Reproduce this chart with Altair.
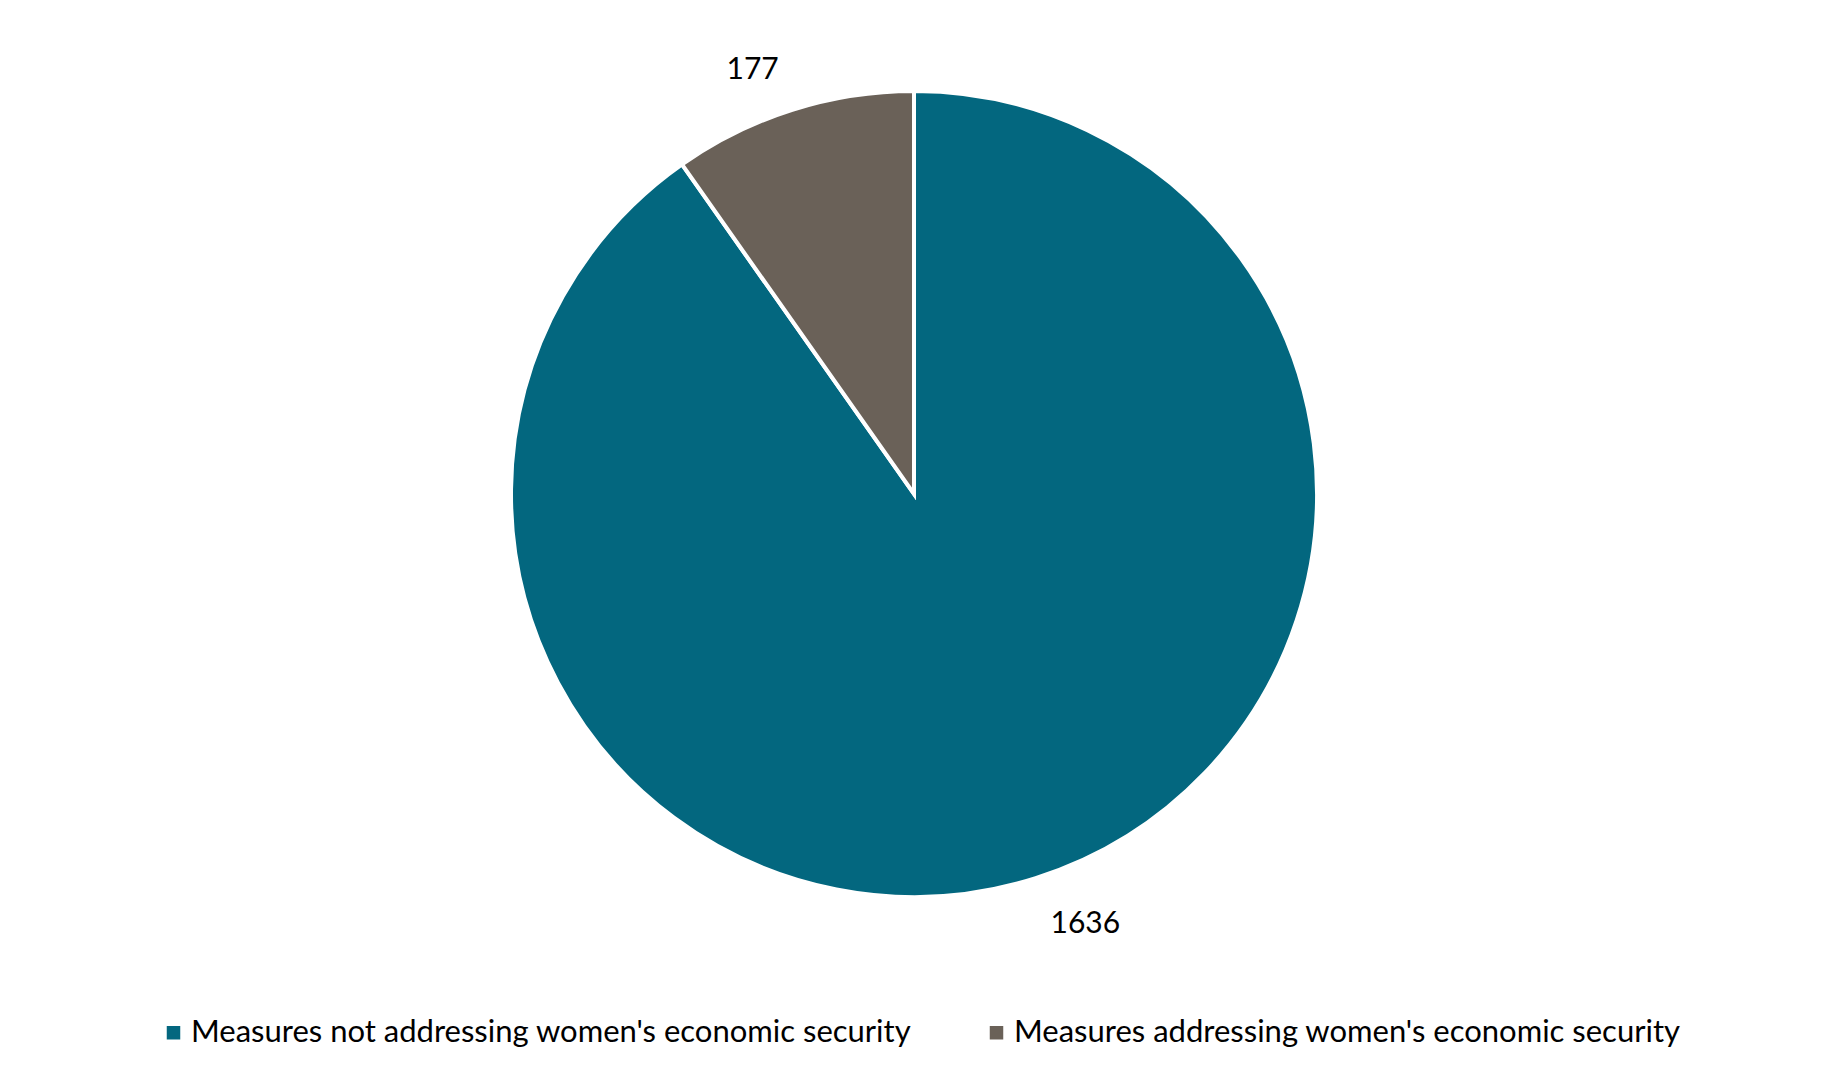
import altair as alt
import pandas as pd
import math

categories = ["Measures not addressing women's economic security",
              "Measures addressing women's economic security"]
values = [1636, 177]
colors = ["#03677F", "#6A6158"]

df = pd.DataFrame({"category": categories, "value": values, "order": [0, 1]})

CX, CY = 906, 486

pie = alt.Chart(df).mark_arc(outerRadius=403, stroke="white", strokeWidth=4).encode(
    theta=alt.Theta("value:Q", stack=True),
    order=alt.Order("order:Q"),
    x=alt.value(CX),
    y=alt.value(CY),
    color=alt.Color(
        "category:N",
        scale=alt.Scale(domain=categories, range=colors),
        sort=categories,
        legend=alt.Legend(
            title=None,
            orient="none",
            legendX=150,
            legendY=1009,
            direction="horizontal",
            symbolType="square",
            symbolSize=225,
            labelFont="Lato",
            labelFontSize=31,
            labelOffset=2,
            labelColor="#000000",
            columnPadding=69,
            labelLimit=1000,
        ),
    ),
)

off = 0.065
labels = alt.Chart(df).mark_text(radius=458, font="Lato", fontSize=30, color="#000000", dx=5, dy=3).encode(
    theta=alt.Theta("value:Q", stack=True, scale=alt.Scale(range=[-off, 2 * math.pi - off])),
    order=alt.Order("order:Q"),
    x=alt.value(CX),
    y=alt.value(CY),
    text=alt.Text("value:Q"),
)

chart = alt.layer(pie, labels).resolve_scale(theta="independent").properties(
    width=1814, height=1060, padding=0,
    autosize=alt.AutoSizeParams(type="none"),
).configure_view(stroke=None)

chart.save("out.html", embed_options={"renderer": "svg", "actions": False})
